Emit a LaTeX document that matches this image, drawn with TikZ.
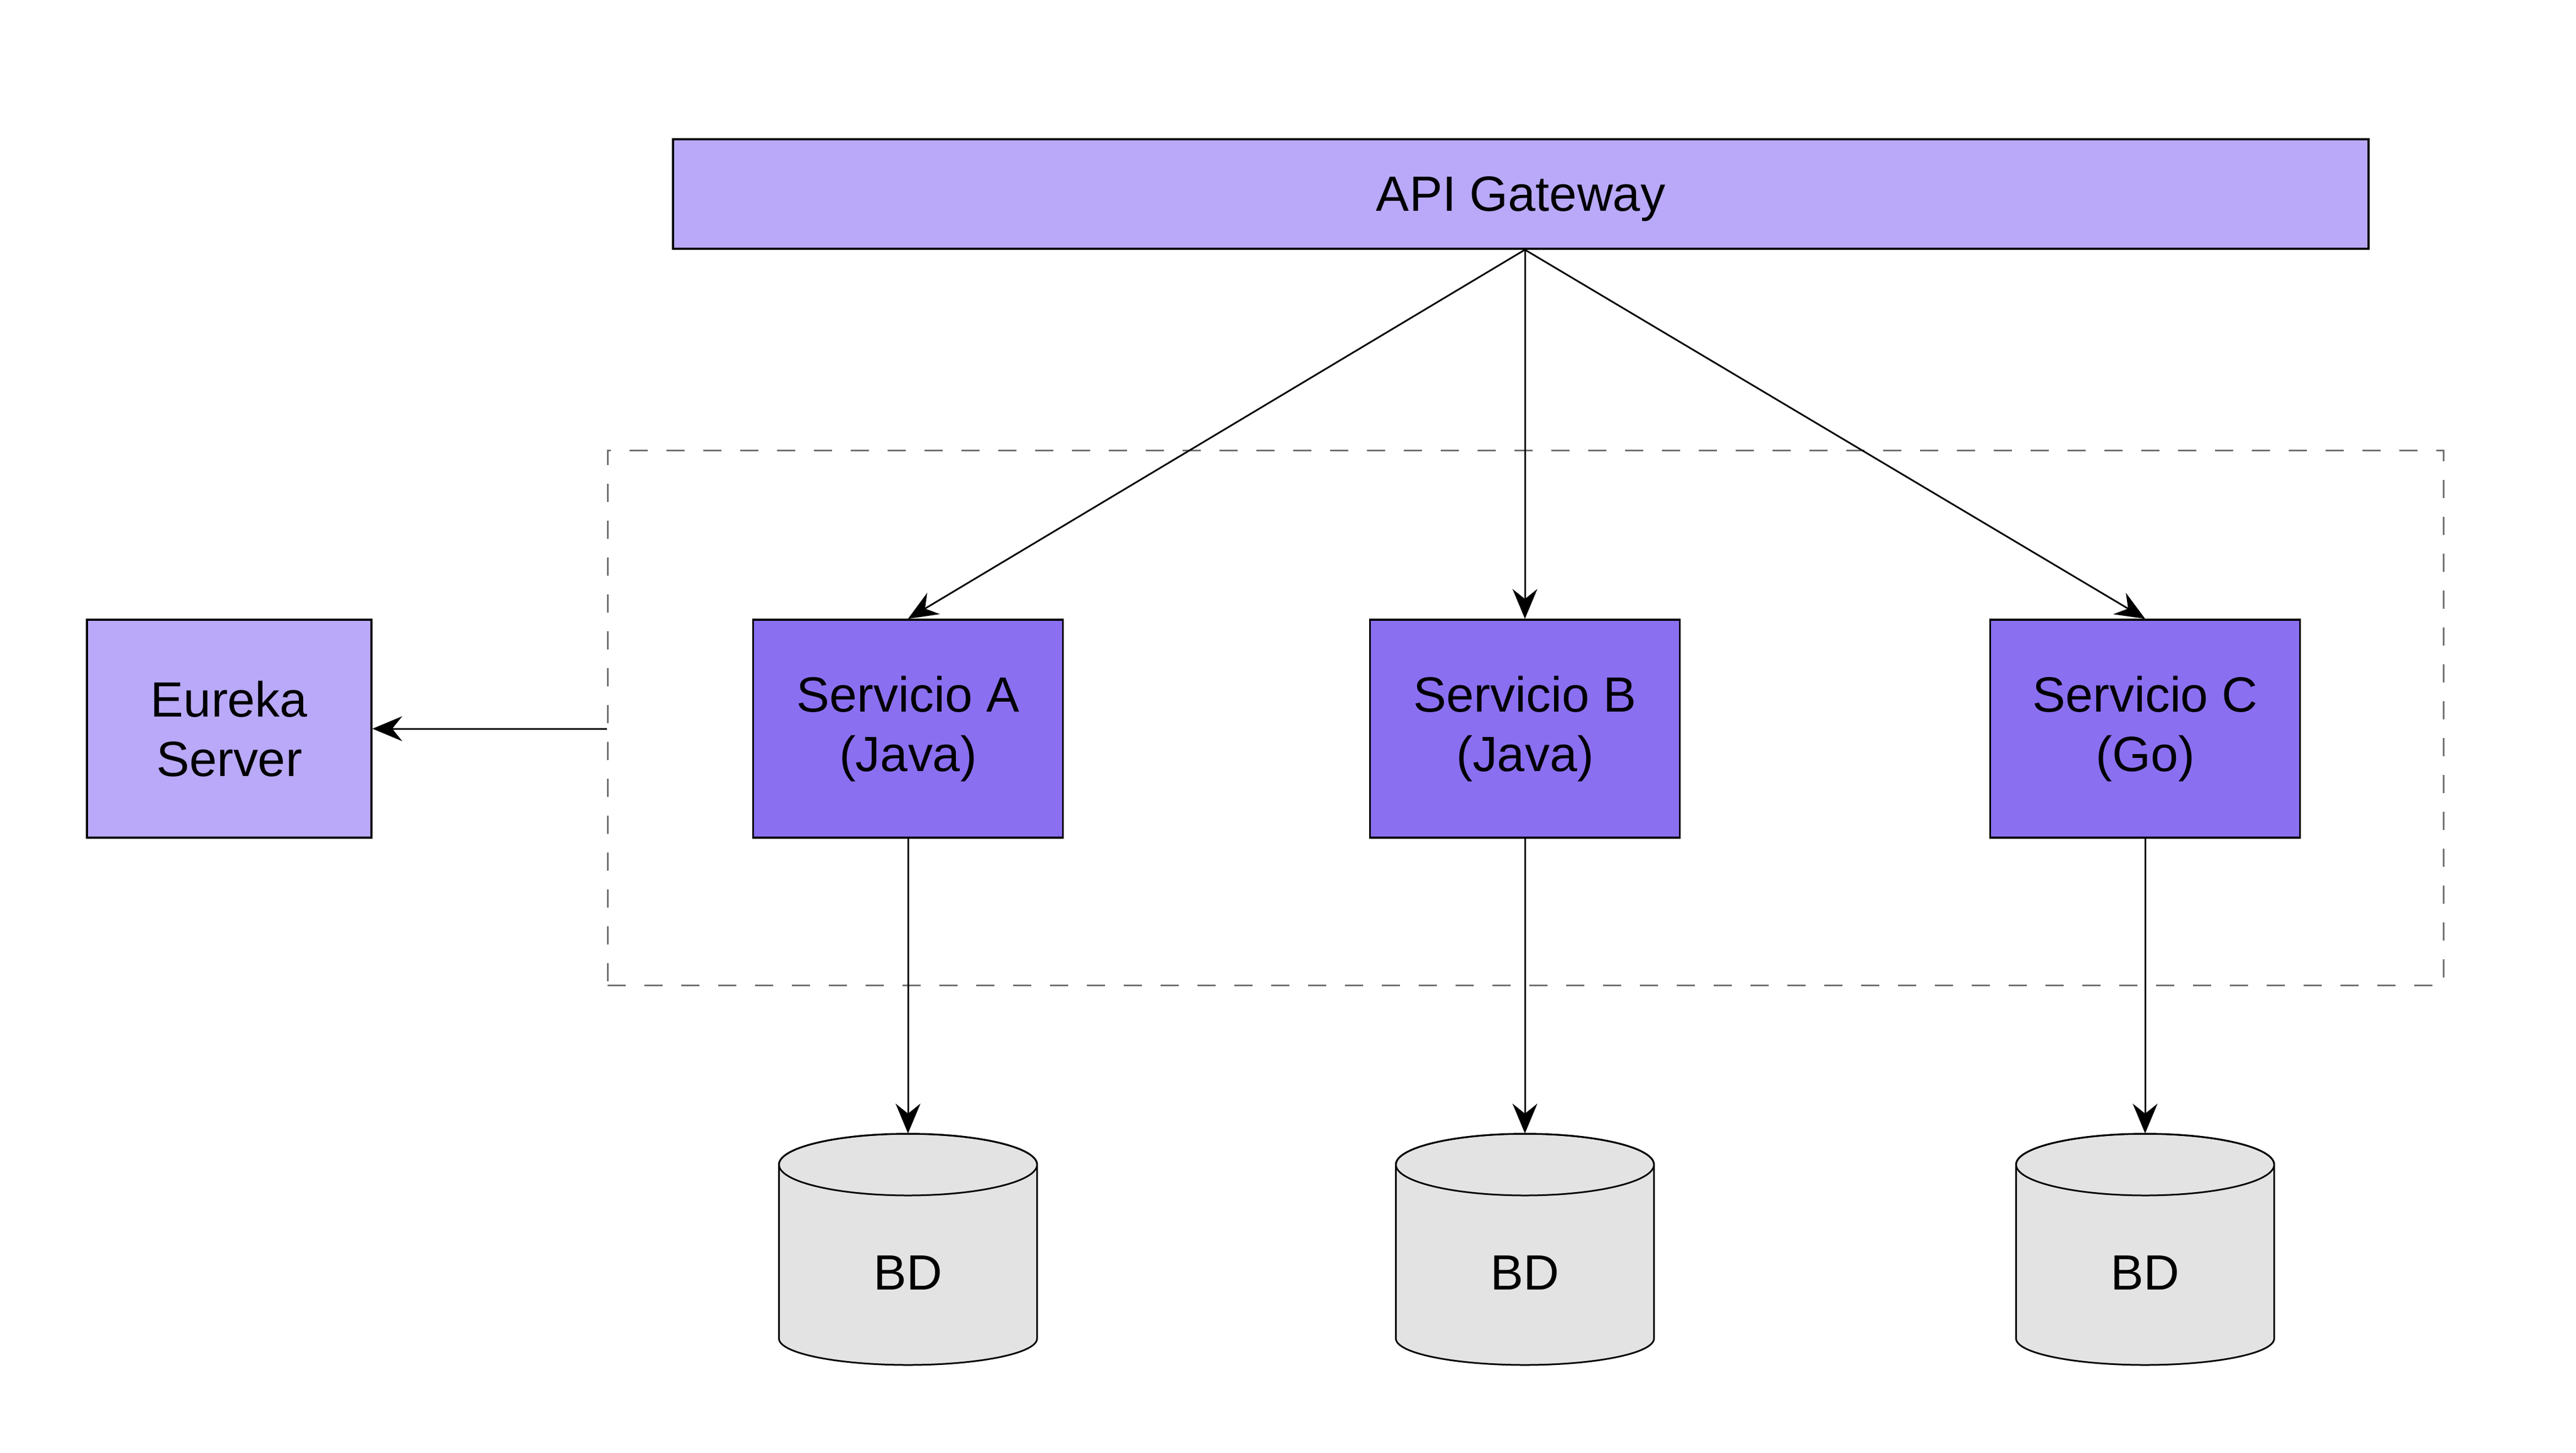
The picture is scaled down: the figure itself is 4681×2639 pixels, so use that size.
\documentclass[tikz,border=0pt]{standalone}
\usepackage{fontspec}
\setmainfont{Liberation Sans}
\usetikzlibrary{arrows.meta}
\definecolor{lightpurple}{HTML}{B9A9F8}
\definecolor{svcpurple}{HTML}{8B6FF1}
\definecolor{dbgray}{HTML}{E3E3E3}
\definecolor{dashgray}{HTML}{707070}
\newcommand{\dbshape}[1]{%
  \path[cyl] (#1-234.5,2116) -- (#1-234.5,2432)
    arc[start angle=180,end angle=0,x radius=234.5,y radius=48]
    -- (#1+234.5,2116)
    arc[start angle=0,end angle=-180,x radius=234.5,y radius=56] -- cycle;
  \draw[line width=0.3mm] (#1,2116) ellipse[x radius=234.5, y radius=56];
}
\begin{document}
\begin{tikzpicture}[x=0.1mm,y=-0.1mm,
  lbl/.style={font=\fontsize{25.6}{30.8}\selectfont, align=center, text=black},
  gwbox/.style={lbl, draw=black, line width=0.35mm, fill=lightpurple, minimum width=308.1mm, minimum height=19.9mm, inner sep=0, text depth=0pt},
  eurbox/.style={lbl, draw=black, line width=0.35mm, fill=lightpurple, minimum width=51.7mm, minimum height=39.6mm, inner sep=0},
  svcbox/.style={lbl, draw=black, line width=0.35mm, fill=svcpurple, minimum width=56.3mm, minimum height=39.6mm, inner sep=0},
  dbanchor/.style={minimum width=46.9mm, minimum height=42mm, inner sep=0},
  grpbox/.style={draw=dashgray, line width=0.3mm, dash pattern=on 3.3mm off 3.4mm, minimum width=333.6mm, minimum height=97.2mm, inner sep=0},
  conn/.style={line width=0.3mm, -{Stealth[length=5.4mm,width=4.5mm,inset=1.8mm]}},
  cyl/.style={draw=black, line width=0.3mm, fill=dbgray}
]
\useasboundingbox (0,0) rectangle (4681,2639);

% group
\node[grpbox] (grp) at (2772,1304) {};

% cylinders
\dbshape{1650}
\dbshape{2771}
\dbshape{3898}
\node[dbanchor] (dbA) at (1650,2270) {};
\node[dbanchor] (dbB) at (2771,2270) {};
\node[dbanchor] (dbC) at (3898,2270) {};
\node[lbl, yshift=-4.3mm] (dbAlbl) at (dbA.center) {BD};
\node[lbl, yshift=-4.3mm] (dbBlbl) at (dbB.center) {BD};
\node[lbl, yshift=-4.3mm] (dbClbl) at (dbC.center) {BD};

% boxes
\node[gwbox] (gw) at (2763.5,352.5) {API Gateway};
\node[eurbox] (eur) at (416.5,1324) {Eureka\\Server};
\node[svcbox] (sa) at (1650,1324) {Servicio A\\(Java)};
\node[svcbox] (sb) at (2771,1324) {Servicio B\\(Java)};
\node[svcbox] (sc) at (3898,1324) {Servicio C\\(Go)};

% connectors
\coordinate (gwOut) at (sb.north |- gw.south);
\draw[conn] (gwOut) -- (sa.north);
\draw[conn] (gwOut) -- (sb.north);
\draw[conn] (gwOut) -- (sc.north);
\draw[conn] (sa.south) -- (dbA.north);
\draw[conn] (sb.south) -- (dbB.north);
\draw[conn] (sc.south) -- (dbC.north);
\coordinate (grpW) at (grp.west |- eur.east);
\draw[conn] (grpW) -- (eur.east);
\end{tikzpicture}
\end{document}
